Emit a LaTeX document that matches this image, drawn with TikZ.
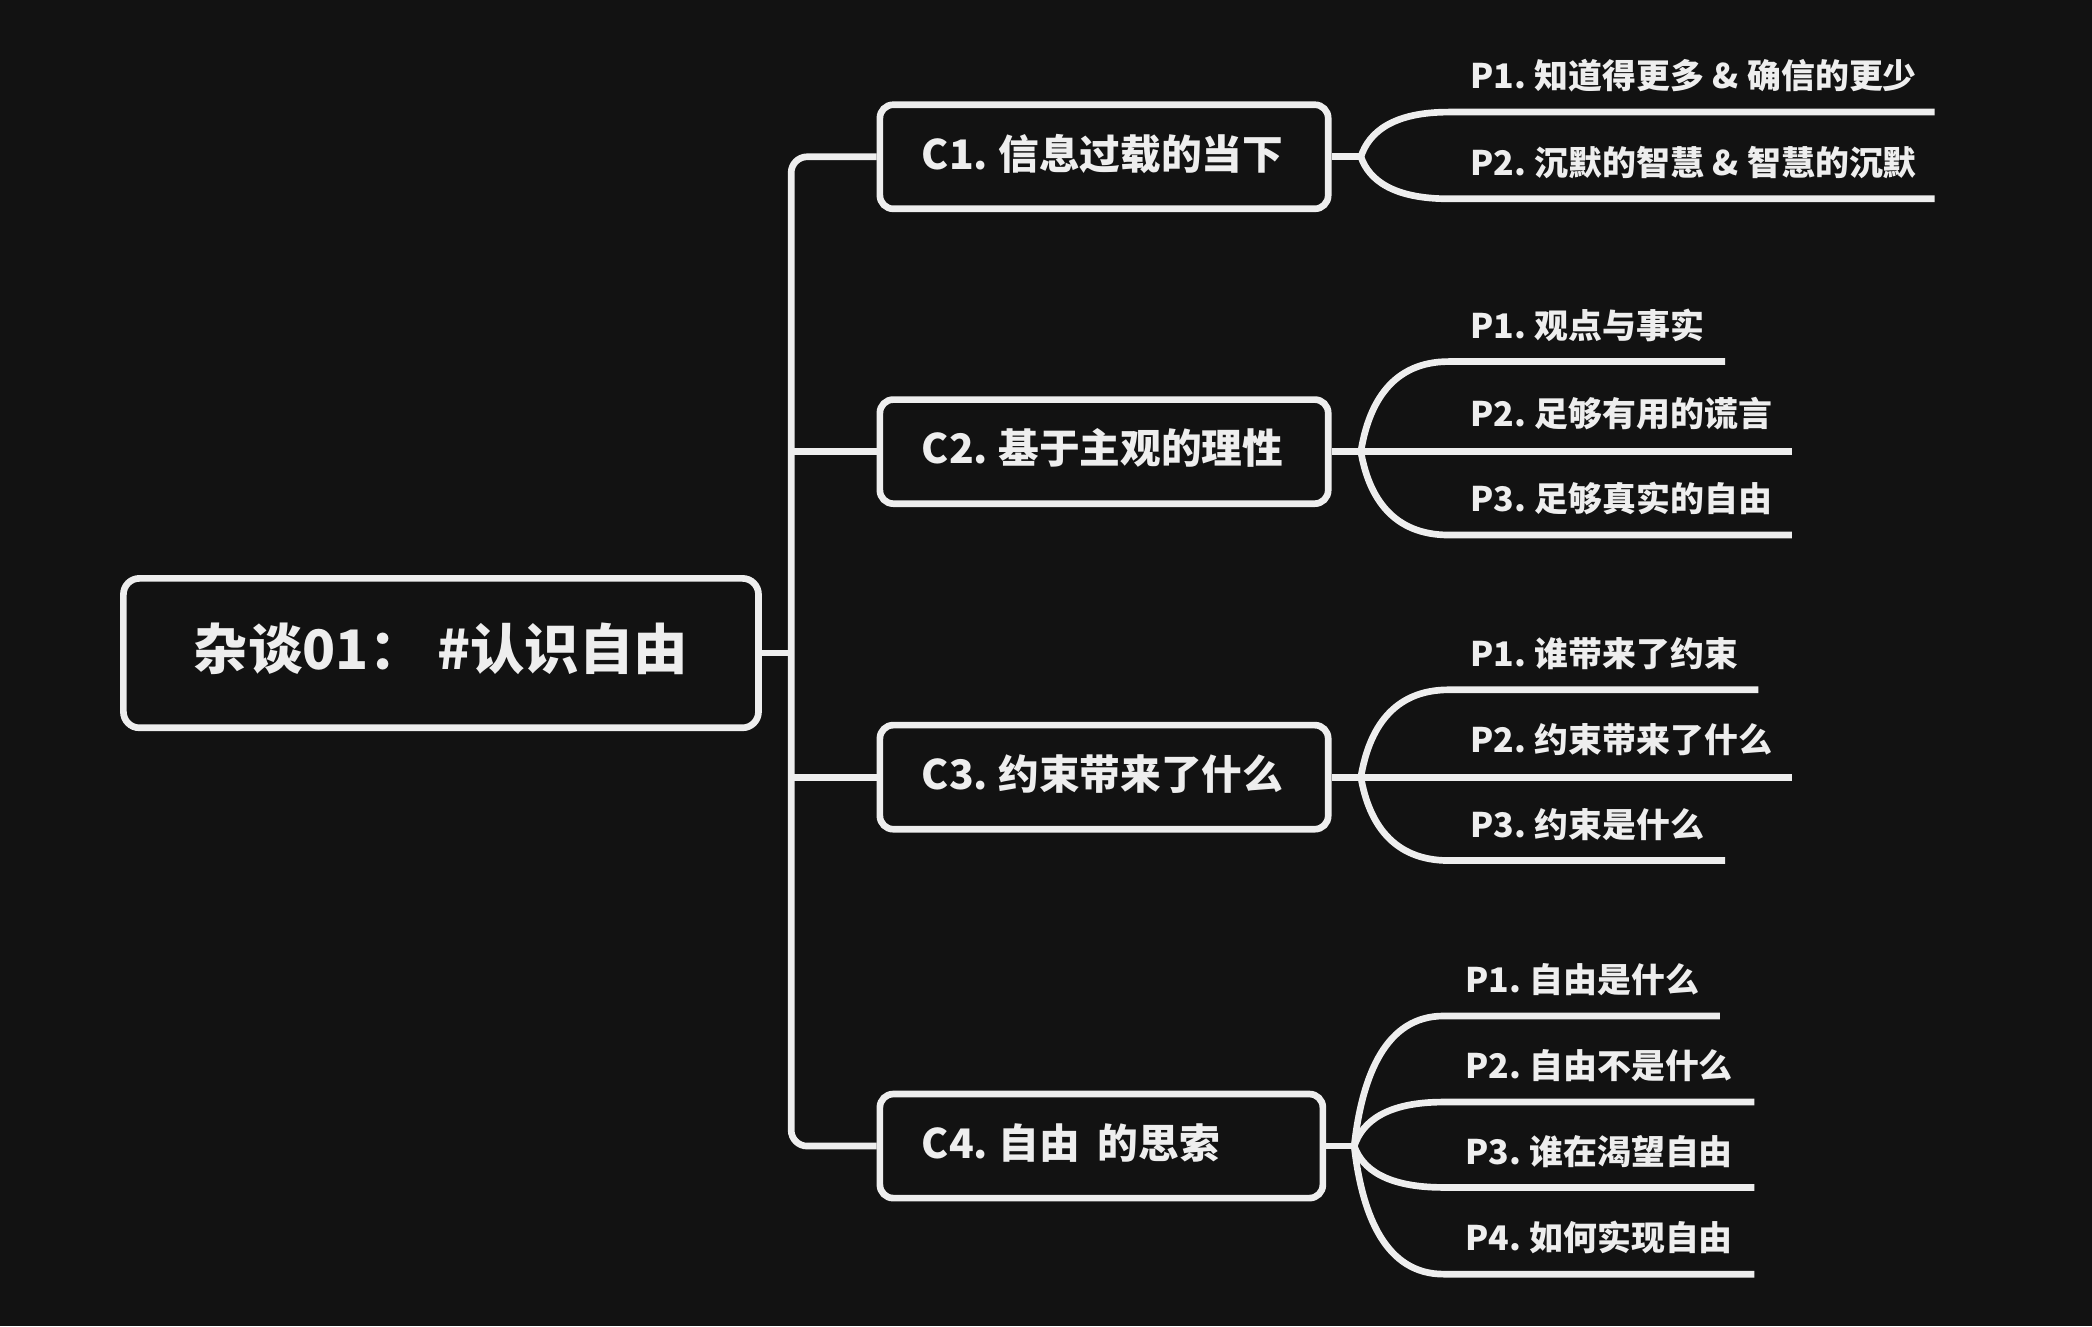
\documentclass[tikz,border=0pt]{standalone}
\usepackage{fontspec}
\setmainfont{Noto Sans CJK SC}
\usetikzlibrary{calc}
\definecolor{bg}{HTML}{121212}
\definecolor{fg}{HTML}{EEEEEE}
\newcommand\mmsp{\hspace{0.25em}}
\newcommand\mmtwig[3]{%
  \draw[conn] let \p1=(#1), \p2=(#2) in (#1) .. controls (\x1+6pt,{\y1+0.55*((\y2)-(\y1))}) and (\x1+24pt,\y2) .. (#2) -- (#3);}
\begin{document}
\begin{tikzpicture}[x=1pt,y=-1pt,
  rootbox/.style={draw=fg, line width=5pt, rounded corners=12pt, minimum width=476pt, minimum height=112pt, inner sep=0pt, text height=31pt, text depth=6pt, font=\fontsize{40.8}{48}\selectfont\bfseries, text=fg},
  catbox/.style={draw=fg, line width=5pt, rounded corners=10pt, minimum height=78pt, inner xsep=31.5pt, inner ysep=0pt, text height=23pt, text depth=4.5pt, align=left, font=\fontsize{30.5}{36}\selectfont\bfseries, text=fg},
  leaf/.style={anchor=base west, inner sep=0pt, font=\fontsize{25.4}{30}\selectfont\bfseries, text=fg},
  conn/.style={draw=fg, line width=5pt}]
\fill[bg] (0,0) rectangle (1568,994);
\useasboundingbox (0,0) rectangle (1568,994);

% root
\node[rootbox] (root) at (330.5,489.5) {杂谈01：\mmsp{}\#认识自由};

% categories
\node[catbox, text width=273pt] (c1) at (827.5,117.5) {\mbox{C1.\mmsp{}信息过载的当下}};
\node[catbox, text width=273pt] (c2) at (827.5,338.5) {\mbox{C2.\mmsp{}基于主观的理性}};
\node[catbox, text width=273pt] (c3) at (827.5,582.5) {\mbox{C3.\mmsp{}约束带来了什么}};
\node[catbox, text width=269pt] (c4) at (825.5,859) {\mbox{C4.\mmsp{}自由\hspace{0.45em}的思索}};

% trunk
\coordinate (tr) at (593,0);
\draw[conn] (root.east) -- (root.east -| tr);
\draw[conn, rounded corners=12pt] (c1.west) -- (c1.west -| tr) -- (c4.west -| tr) -- (c4.west);
\draw[conn] (c2.west -| tr) -- (c2.west);
\draw[conn] (c3.west -| tr) -- (c3.west);

% junctions
\coordinate (j1) at (1020,117.5);
\coordinate (j2) at (1020,338.5);
\coordinate (j3) at (1020,582.5);
\coordinate (j4) at (1015,859);
\draw[conn] (c1.east) -- (j1);
\draw[conn] (c2.east) -- (j2);
\draw[conn] (c3.east) -- (j3);
\draw[conn] (c4.east) -- (j4);

% C1 leaves
\coordinate (s11) at (1086,84);   \coordinate (e11) at (1450,84);
\coordinate (s12) at (1086,149);  \coordinate (e12) at (1450,149);
\mmtwig{j1}{s11}{e11}
\mmtwig{j1}{s12}{e12}
\node[leaf] (p11) at (1102,66.5) {P1.\mmsp{}知道得更多\mmsp{}\&\mmsp{}确信的更少};
\node[leaf] (p12) at (1102,131.5) {P2.\mmsp{}沉默的智慧\mmsp{}\&\mmsp{}智慧的沉默};

% C2 leaves
\coordinate (s21) at (1086,271);  \coordinate (e21) at (1293,271);
\coordinate (e22) at (1343,338.5);
\coordinate (s23) at (1086,401);  \coordinate (e23) at (1343,401);
\mmtwig{j2}{s21}{e21}
\draw[conn] (j2) -- (e22);
\mmtwig{j2}{s23}{e23}
\node[leaf] (p21) at (1102,253.5) {P1.\mmsp{}观点与事实};
\node[leaf] (p22) at (1102,320) {P2.\mmsp{}足够有用的谎言};
\node[leaf] (p23) at (1102,383.5) {P3.\mmsp{}足够真实的自由};

% C3 leaves
\coordinate (s31) at (1086,517);  \coordinate (e31) at (1318,517);
\coordinate (e32) at (1343,582.5);
\coordinate (s33) at (1086,645);  \coordinate (e33) at (1293,645);
\mmtwig{j3}{s31}{e31}
\draw[conn] (j3) -- (e32);
\mmtwig{j3}{s33}{e33}
\node[leaf] (p31) at (1102,499.5) {P1.\mmsp{}谁带来了约束};
\node[leaf] (p32) at (1102,564) {P2.\mmsp{}约束带来了什么};
\node[leaf] (p33) at (1102,627.5) {P3.\mmsp{}约束是什么};

% C4 leaves
\coordinate (s41) at (1082,761.5); \coordinate (e41) at (1289,761.5);
\coordinate (s42) at (1082,826);   \coordinate (e42) at (1315,826);
\coordinate (s43) at (1082,890);   \coordinate (e43) at (1315,890);
\coordinate (s44) at (1082,955);   \coordinate (e44) at (1315,955);
\mmtwig{j4}{s41}{e41}
\mmtwig{j4}{s42}{e42}
\mmtwig{j4}{s43}{e43}
\mmtwig{j4}{s44}{e44}
\node[leaf] (p41) at (1098,744) {P1.\mmsp{}自由是什么};
\node[leaf] (p42) at (1098,808.5) {P2.\mmsp{}自由不是什么};
\node[leaf] (p43) at (1098,872.5) {P3.\mmsp{}谁在渴望自由};
\node[leaf] (p44) at (1098,937.5) {P4.\mmsp{}如何实现自由};
\end{tikzpicture}
\end{document}
